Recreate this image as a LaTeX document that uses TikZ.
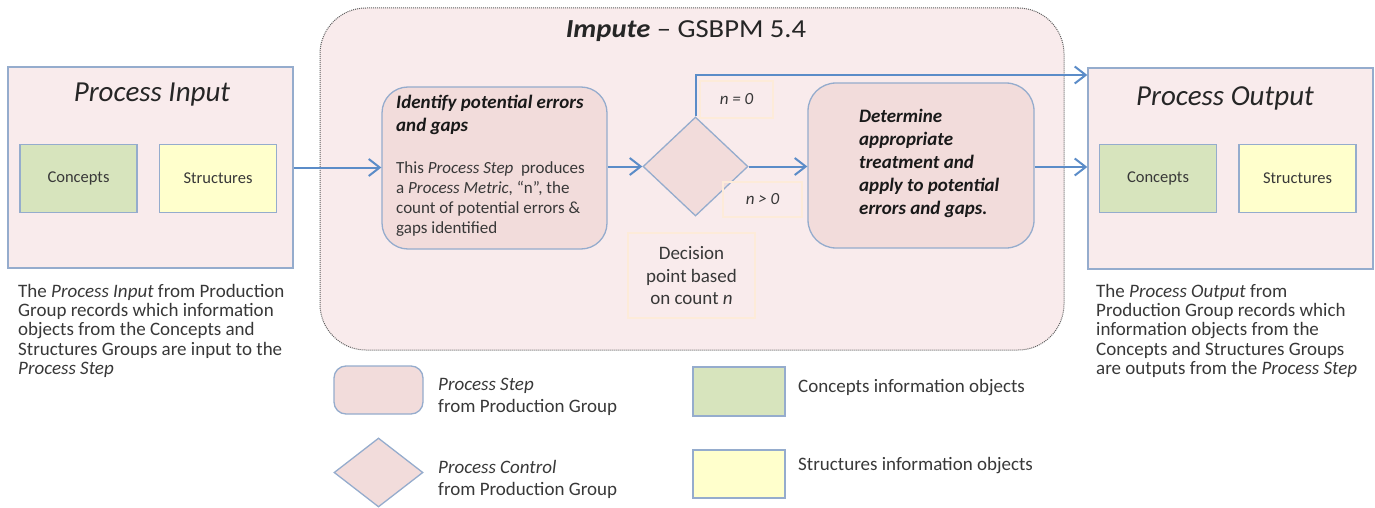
\documentclass[tikz,border=0pt]{standalone}
\usepackage{fontspec}
\setmainfont{Carlito}
\newfontfamily\widefont{Carlito}[FakeStretch=1.1]
\usetikzlibrary{arrows.meta,shapes.geometric}
\definecolor{outerpink}{HTML}{F9EBEC}
\definecolor{steppink}{HTML}{F2DCDB}
\definecolor{cgreen}{HTML}{D7E4BD}
\definecolor{syellow}{HTML}{FFFFCC}
\definecolor{boxborder}{HTML}{95ACCD}
\definecolor{arrowblue}{HTML}{5B8CC8}
\definecolor{lblborder}{HTML}{FDEBD9}
\definecolor{txt}{HTML}{383838}
\definecolor{dotgray}{HTML}{606060}
\begin{document}
\begin{tikzpicture}[x=1pt,y=-1pt,
  grpbox/.style={draw=boxborder, fill=outerpink, line width=1.3pt, inner sep=0},
  objbox/.style={draw=boxborder, line width=1.3pt, inner sep=0, minimum width=117, minimum height=68, text=txt, font=\fontsize{16.5}{19}\selectfont},
  stepbox/.style={draw=boxborder, fill=steppink, line width=1.3pt, inner sep=0, rounded corners=26},
  ctrl/.style={diamond, draw=boxborder, fill=steppink, line width=1.3pt, inner sep=0},
  lblbox/.style={draw=lblborder, line width=2pt, inner sep=0},
  arr/.style={draw=arrowblue, line width=2pt, -{Straight Barb[length=11pt,width=17pt]}},
  txtnode/.style={inner sep=0, text=txt, align=left},
]
\useasboundingbox (0,0) rectangle (1375,508);

% Impute outer box
\node[draw=dotgray, fill=outerpink, line width=1pt, dash pattern=on 1pt off 1pt,
      rounded corners=46, minimum width=744, minimum height=342, inner sep=0] (imp) at (692,179) {};
\node[inner sep=0, text=black!85, font=\widefont\fontsize{26}{30}\selectfont] (imptitle) at (686,31) {\textbf{\textit{Impute}} – GSBPM 5.4};

% Process input
\node[grpbox, minimum width=285, minimum height=201] (pin) at (150.5,167.5) {};
\node[inner sep=0, text=black!85, font=\fontsize{29}{32}\selectfont\itshape] (pintitle) at (152,95) {Process Input};
\node[objbox, fill=cgreen] (pinc) at (78.5,178.5) {Concepts};
\node[objbox, fill=syellow] (pins) at (218,178.5) {Structures};
\node[txtnode, anchor=north west, font=\fontsize{19}{19.3}\selectfont] (pincap) at (18,284)
  {The \textit{Process Input} from Production\\Group records which information\\objects from the Concepts and\\Structures Groups are input to the\\\textit{Process Step}};

% Process output
\node[grpbox, minimum width=285, minimum height=201] (pout) at (1230.5,168.5) {};
\node[inner sep=0, text=black!85, font=\fontsize{29}{32}\selectfont\itshape] (pouttitle) at (1225,98) {Process Output};
\node[objbox, fill=cgreen] (poutc) at (1158,178.5) {Concepts};
\node[objbox, fill=syellow] (pouts) at (1297.5,178.5) {Structures};
\node[txtnode, anchor=north west, font=\fontsize{19}{19.3}\selectfont] (poutcap) at (1096,284)
  {The \textit{Process Output} from\\Production Group records which\\information objects from the\\Concepts and Structures Groups\\are outputs from the \textit{Process Step}};

% Identify step
\node[stepbox, minimum width=225, minimum height=162] (ident) at (494.5,168) {};
\node[txtnode, anchor=north west, text=black!90, font=\fontsize{19}{23}\selectfont\bfseries\itshape] (identtitle) at (396,95)
  {Identify potential errors\\and gaps};
\node[txtnode, anchor=north west, font=\fontsize{17}{20}\selectfont] (identbody) at (396,161)
  {This \textit{Process Step}\ \ produces\\a \textit{Process Metric}, “n”, the\\count of potential errors \&\\gaps identified};

% Decision
\node[ctrl, minimum width=105, minimum height=99] (dia) at (695.5,166.5) {};
\node[lblbox, minimum width=73, minimum height=37] (lz) at (736.5,99.5) {};
\node[inner sep=0, text=txt, font=\fontsize{17}{19}\selectfont\itshape] (lztext) at (lz) {n = 0};
\node[lblbox, minimum width=79, minimum height=35] (lp) at (762.5,199.5) {};
\node[inner sep=0, text=txt, font=\fontsize{17}{19}\selectfont\itshape] (lptext) at (lp) {n > 0};
\node[lblbox, minimum width=127, minimum height=85] (dec) at (691.5,275.5) {};
\node[inner sep=0, text=txt, align=center, font=\fontsize{19}{22.5}\selectfont] (dectext) at (691.5,276) {Decision\\point based\\on count \textit{n}};

% Determine step
\node[stepbox, rounded corners=28, minimum width=226, minimum height=165] (det) at (921,165.5) {};
\node[txtnode, anchor=north west, text=black!90, font=\fontsize{19}{23}\selectfont\bfseries\itshape] (dettext) at (859,109)
  {Determine\\appropriate\\treatment and\\apply to potential\\errors and gaps.};

% Connectors
\coordinate (topy) at (0,75);
\draw[arr] (pin.east) -- (pin.east -| ident.west);
\draw[arr] (ident.east |- dia.west) -- (dia.west);
\draw[arr] (dia.east) -- (dia.east -| det.west);
\draw[arr] (dia.north) -- (dia.north |- topy) -- (pout.west |- topy);
\draw[arr] (det.east |- 0,167) -- (pout.west |- 0,167);

% Legend
\node[stepbox, rounded corners=12, minimum width=89, minimum height=48] (lgstep) at (378.5,390) {};
\node[txtnode, anchor=base west, font=\fontsize{19}{22}\selectfont] (lgsteptext) at (438,412) {\textit{Process Step}\\from Production Group};
\node[ctrl, minimum width=89, minimum height=69] (lgctrl) at (378.5,472.5) {};
\node[txtnode, anchor=base west, font=\fontsize{19}{22}\selectfont] (lgctrltext) at (438,495) {\textit{Process Control}\\from Production Group};
\node[draw=boxborder, fill=cgreen, line width=1.3pt, minimum width=92, minimum height=49, inner sep=0] (lgc) at (739,391.5) {};
\node[txtnode, anchor=base west, font=\fontsize{19}{22}\selectfont] (lgctext) at (798,392) {Concepts information objects};
\node[draw=boxborder, fill=syellow, line width=1.3pt, minimum width=92, minimum height=48, inner sep=0] (lgs) at (739,474) {};
\node[txtnode, anchor=base west, font=\fontsize{19}{22}\selectfont] (lgstext) at (798,470) {Structures information objects};
\end{tikzpicture}
\end{document}
